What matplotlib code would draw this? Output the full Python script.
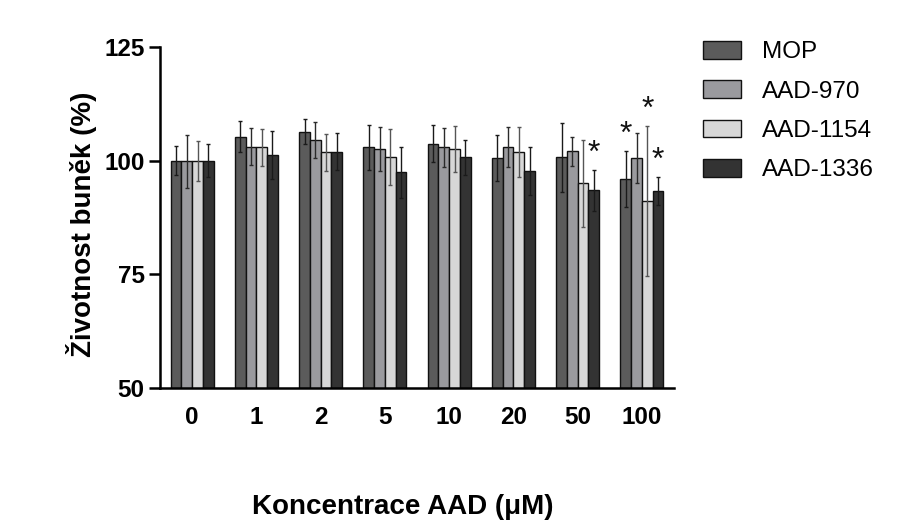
import matplotlib
matplotlib.use("Agg")
import matplotlib.pyplot as plt
import numpy as np

plt.rcParams['font.family'] = ['Liberation Sans', 'DejaVu Sans']

concentrations = ["0", "1", "2", "5", "10", "20", "50", "100"]
series_names = ["MOP", "AAD-970", "AAD-1154", "AAD-1336"]

mop = [100.0, 105.3, 106.4, 102.9, 103.7, 100.6, 100.7, 96.0]
aad970 = [99.9, 103.1, 104.5, 102.6, 102.9, 103.0, 102.1, 100.5]
aad1154 = [99.9, 102.9, 101.8, 100.8, 102.5, 102.0, 95.0, 91.1]
aad1336 = [100.0, 101.3, 102.0, 97.4, 100.7, 97.8, 93.5, 93.3]

mop_err = [3.2, 3.5, 2.8, 4.9, 4.1, 5.1, 7.6, 6.2]
aad970_err = [5.8, 4.1, 3.9, 4.8, 4.2, 4.3, 3.2, 5.5]
aad1154_err = [4.4, 4.0, 4.0, 6.1, 5.1, 5.5, 9.6, 16.5]
aad1336_err = [3.6, 5.3, 4.0, 5.7, 3.9, 5.3, 4.5, 3.1]

# significance markers: (series index, group index)
significant = [(3, 6), (0, 7), (2, 7), (3, 7)]

values = [mop, aad970, aad1154, aad1336]
errors = [mop_err, aad970_err, aad1154_err, aad1336_err]
colors = ["#5b5b5b", "#9a9a9e", "#d7d7d7", "#333333"]
err_colors = ["#1a1a1a", "#2a2a2a", "#555555", "#1a1a1a"]

fig = plt.figure(figsize=(9.01, 5.24), dpi=100)
ax = fig.add_axes([0.1776, 0.2595, 0.5705, 0.6508])

x = np.arange(len(concentrations))
bw = 0.167
for i, (vals, errs) in enumerate(zip(values, errors)):
    pos = x + (i - 1.5) * bw
    ax.bar(pos, vals, width=bw, color=colors[i], edgecolor="#111111",
           linewidth=1.0, label=series_names[i], zorder=2)
    ax.errorbar(pos, vals, yerr=errs, fmt='none', ecolor=err_colors[i],
                elinewidth=1.0, capsize=1.5, capthick=1.0, zorder=3)

for si, gi in significant:
    xp = x[gi] + (si - 1.5) * bw
    yp = values[si][gi] + errors[si][gi] + 1.8
    ax.text(xp, yp, "*", ha='center', va='baseline', fontsize=23, color='#111111')

ax.set_ylim(50, 125)
ax.set_xlim(-0.5, 7.5)
ax.set_yticks([50, 75, 100, 125])
ax.set_xticks(x)
ax.set_xticklabels(concentrations)
ax.tick_params(axis='x', length=0, pad=13, labelsize=17.5)
ax.tick_params(axis='y', length=8, width=1.8, pad=3, labelsize=17.5)
for lbl in ax.get_xticklabels() + ax.get_yticklabels():
    lbl.set_fontweight('bold')

for s in ['top', 'right']:
    ax.spines[s].set_visible(False)
for s in ['left', 'bottom']:
    ax.spines[s].set_linewidth(1.8)

ax.set_ylabel("Životnost buněk (%)", fontsize=20, fontweight='bold', labelpad=5)
ax.yaxis.label.set_y(0.48)
fig.text(403 / 901, 1 - 514 / 524, "Koncentrace AAD (μM)", fontsize=20, fontweight='bold',
         ha='center', va='baseline')

leg = ax.legend(loc='upper left', bbox_to_anchor=(703 / 901, 1 - 41 / 524), bbox_transform=fig.transFigure,
                frameon=False, fontsize=17.5, handlelength=1.56, handleheight=0.74,
                handletextpad=0.86, labelspacing=0.7, borderaxespad=0, borderpad=0)

fig.savefig("out.png", dpi=100)
